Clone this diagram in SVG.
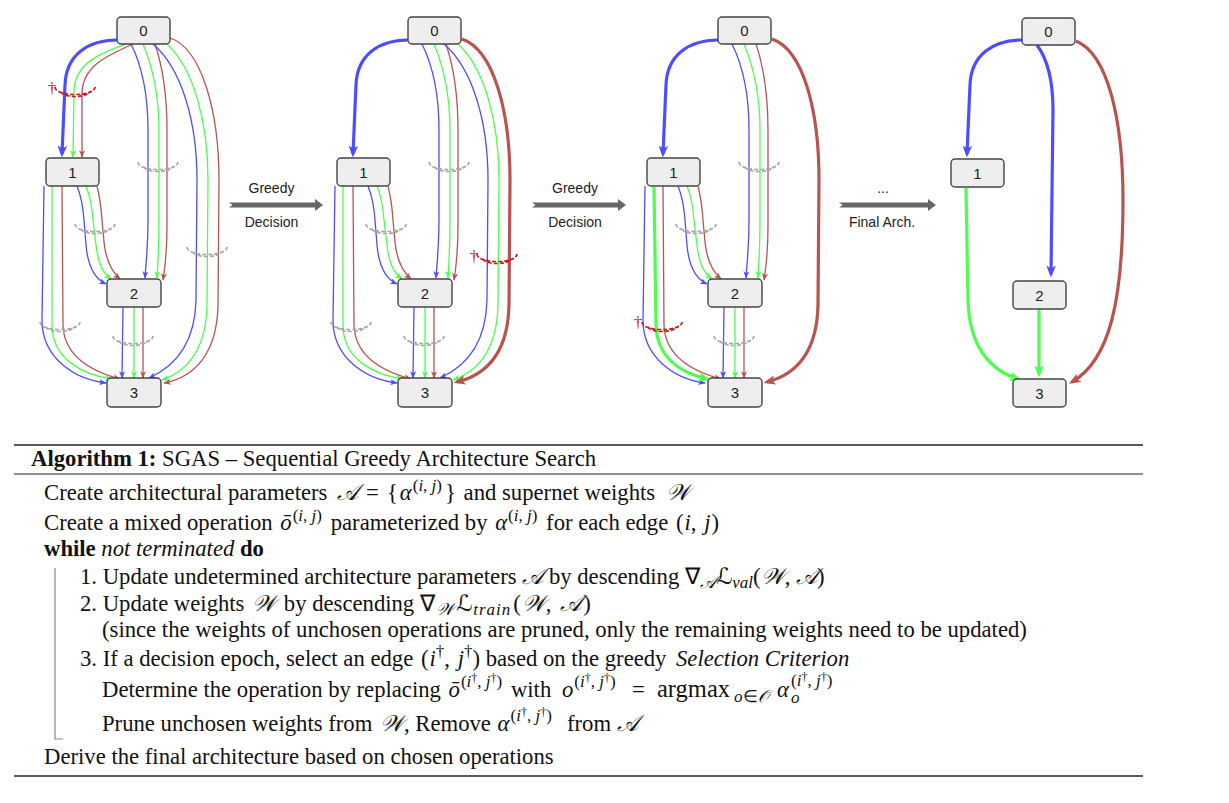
<svg xmlns="http://www.w3.org/2000/svg" xmlns:xlink="http://www.w3.org/1999/xlink" width="1229" height="803" viewBox="0 0 1229 803">
<style>
.node rect{fill:#eeeeee;stroke:#444444;stroke-width:1.4}
.node text{font-family:"Liberation Sans",Arial,sans-serif;font-size:15px;fill:#222;text-anchor:middle}
.e{fill:none;stroke-width:1.3}
.t{stroke-width:3.2}
.b{stroke:#4d4dff}
.g{stroke:#4dff4d}
.r{stroke:#b85450}
.b.n{marker-end:url(#mb)}
.g.n{marker-end:url(#mg)}
.r.n{marker-end:url(#mr)}
.b.t{marker-end:url(#Mb)}
.g.t{marker-end:url(#Mg)}
.r.t{marker-end:url(#Mr)}
.cg{stroke:#a8a8a8}
.cr{stroke:#c41a1a}
.dag{font-family:"Liberation Serif","DejaVu Serif",serif;font-size:17px;fill:#c41a1a;text-anchor:middle}
.lbl{font-family:"Liberation Sans",Arial,sans-serif;font-size:14px;fill:#222;text-anchor:middle}
.tr{fill:#666666}
.alg{font-family:"Liberation Serif","Times New Roman",serif;font-size:22.7px;fill:#111}
.i{font-style:italic}
.bd{font-weight:bold}
.sup{font-size:17px}
.sup2{font-size:12px}
.sc{font-family:"DejaVu Serif","DejaVu Sans","Noto Sans",serif}
.rule{stroke:#222;stroke-width:1.7}
.bar{stroke:#888;stroke-width:1.2;fill:none}
</style>
<defs>
<marker id="mb" viewBox="0 0 10 8" markerWidth="7.5" markerHeight="6" refX="9" refY="4" orient="auto" markerUnits="userSpaceOnUse"><path d="M0,0 L10,4 L0,8 L2.5,4 z" fill="#4d4dff"/></marker>
<marker id="mg" viewBox="0 0 10 8" markerWidth="7.5" markerHeight="6" refX="9" refY="4" orient="auto" markerUnits="userSpaceOnUse"><path d="M0,0 L10,4 L0,8 L2.5,4 z" fill="#4dff4d"/></marker>
<marker id="mr" viewBox="0 0 10 8" markerWidth="7.5" markerHeight="6" refX="9" refY="4" orient="auto" markerUnits="userSpaceOnUse"><path d="M0,0 L10,4 L0,8 L2.5,4 z" fill="#b85450"/></marker>
<marker id="Mb" viewBox="0 0 10 8" markerWidth="12" markerHeight="9.6" refX="7" refY="4" orient="auto" markerUnits="userSpaceOnUse"><path d="M0,0 L10,4 L0,8 L2.5,4 z" fill="#4d4dff"/></marker>
<marker id="Mg" viewBox="0 0 10 8" markerWidth="12" markerHeight="9.6" refX="7" refY="4" orient="auto" markerUnits="userSpaceOnUse"><path d="M0,0 L10,4 L0,8 L2.5,4 z" fill="#4dff4d"/></marker>
<marker id="Mr" viewBox="0 0 10 8" markerWidth="12" markerHeight="9.6" refX="7" refY="4" orient="auto" markerUnits="userSpaceOnUse"><path d="M0,0 L10,4 L0,8 L2.5,4 z" fill="#b85450"/></marker>
<g id="cut" fill="none" stroke-width="1.7" stroke-dasharray="4 2">
<path d="M-20,-6 C-20,4 20,4 20,-6"/>
<path d="M-14,-1 C-11,5 11,5 14,-1"/>
</g>
</defs>
<rect width="1229" height="803" fill="#ffffff"/>

<!-- Panel 1 -->
<g id="panel1">
<g id="p1-connectors">
<path class="e t b" d="M117,40 C88,40 66,55 65,85 L62,154"/>
<path class="e n g" d="M126,44 C104,52 74,62 74,92 L73,157"/>
<path class="e n r" d="M133,44 C112,54 82,64 82,94 L82,157"/>
<path class="e n b" d="M131,44 C143,68 148,95 148,130 L148,220 C148,248 146,262 145,278"/>
<path class="e n g" d="M143,44 C153,68 159,95 159,130 L159,220 C159,248 158,262 157,278"/>
<path class="e n r" d="M155,44 C163,68 167,95 167,130 L167,225 C167,255 165,268 163,280"/>
<path class="e n b" d="M153,44 C181,68 197,120 197,180 L196,300 C195,343 176,366 149,378"/>
<path class="e n g" d="M167,44 C193,68 208,120 208,180 L207,305 C206,348 188,371 162,380"/>
<path class="e n r" d="M170,38 C201,48 219,110 219,180 L218,305 C217,352 196,377 164,383"/>
<path class="e n b" d="M77,186 C81,196 83,205 84,220 L86,245 C88,268 95,279 106,284"/>
<path class="e n g" d="M86,186 C90,196 92,205 93,220 L96,245 C98,264 103,273 111,279"/>
<path class="e n r" d="M97,186 C99,194 101,205 102,220 L104,242 C106,262 112,272 120,279"/>
<path class="e n b" d="M44,186 L42,320 C42,358 74,379 106,383"/>
<path class="e n g" d="M52,186 L52,325 C52,360 84,375 112,379"/>
<path class="e n r" d="M62,186 L63,325 C64,358 94,372 120,379"/>
<path class="e n b" d="M123,307 L122,378"/>
<path class="e n g" d="M134,307 L134,378"/>
<path class="e n r" d="M143,307 L143,378"/>
<use href="#cut" class="cr" x="75" y="93"/>
<text class="dag" x="52" y="94">†</text>
<use href="#cut" class="cg" x="158" y="168"/>
<use href="#cut" class="cg" x="95" y="230"/>
<use href="#cut" class="cg" x="207" y="253"/>
<use href="#cut" class="cg" x="60" y="328"/>
<use href="#cut" class="cg" x="133" y="342"/>
</g>
<g id="p1-n0" class="node"><rect x="117" y="17" width="53" height="27" rx="4"/><text x="143.5" y="36">0</text></g>
<g id="p1-n1" class="node"><rect x="46" y="158" width="53" height="28" rx="4"/><text x="72.5" y="177.5">1</text></g>
<g id="p1-n2" class="node"><rect x="107" y="279" width="54" height="28" rx="4"/><text x="134" y="298.5">2</text></g>
<g id="p1-n3" class="node"><rect x="107" y="378" width="54" height="29" rx="4"/><text x="134" y="398">3</text></g>
</g>

<!-- Panel 2 -->
<g id="panel2" transform="translate(291,0)">
<g id="p2-connectors">
<path class="e t b" d="M117,40 C88,40 66,55 65,85 L62,154"/>
<path class="e n b" d="M131,44 C143,68 148,95 148,130 L148,220 C148,248 146,262 145,278"/>
<path class="e n g" d="M143,44 C153,68 159,95 159,130 L159,220 C159,248 158,262 157,278"/>
<path class="e n r" d="M155,44 C163,68 167,95 167,130 L167,225 C167,255 165,268 163,280"/>
<path class="e n b" d="M153,44 C181,68 197,120 197,180 L196,300 C195,343 176,366 149,378"/>
<path class="e n g" d="M167,44 C193,68 208,120 208,180 L207,305 C206,348 188,371 162,380"/>
<path class="e t r" d="M171,39 C203,50 219,112 219,180 L218,305 C217,350 198,374 166,382"/>
<path class="e n b" d="M77,186 C81,196 83,205 84,220 L86,245 C88,268 95,279 106,284"/>
<path class="e n g" d="M86,186 C90,196 92,205 93,220 L96,245 C98,264 103,273 111,279"/>
<path class="e n r" d="M97,186 C99,194 101,205 102,220 L104,242 C106,262 112,272 120,279"/>
<path class="e n b" d="M44,186 L42,320 C42,358 74,379 106,383"/>
<path class="e n g" d="M52,186 L52,325 C52,360 84,375 112,379"/>
<path class="e n r" d="M62,186 L63,325 C64,358 94,372 120,379"/>
<path class="e n b" d="M123,307 L122,378"/>
<path class="e n g" d="M134,307 L134,378"/>
<path class="e n r" d="M143,307 L143,378"/>
<use href="#cut" class="cg" x="158" y="168"/>
<use href="#cut" class="cg" x="95" y="230"/>
<use href="#cut" class="cr" x="206" y="260"/>
<text class="dag" x="183" y="262">†</text>
<use href="#cut" class="cg" x="60" y="328"/>
<use href="#cut" class="cg" x="133" y="342"/>
</g>
<g id="p2-n0" class="node"><rect x="117" y="17" width="53" height="27" rx="4"/><text x="143.5" y="36">0</text></g>
<g id="p2-n1" class="node"><rect x="46" y="158" width="53" height="28" rx="4"/><text x="72.5" y="177.5">1</text></g>
<g id="p2-n2" class="node"><rect x="107" y="279" width="54" height="28" rx="4"/><text x="134" y="298.5">2</text></g>
<g id="p2-n3" class="node"><rect x="107" y="378" width="54" height="29" rx="4"/><text x="134" y="398">3</text></g>
</g>

<!-- Panel 3 -->
<g id="panel3" transform="translate(601,0)">
<g id="p3-connectors">
<path class="e t b" d="M117,40 C88,40 66,55 65,85 L62,154"/>
<path class="e n b" d="M131,44 C143,68 148,95 148,130 L148,220 C148,248 146,262 145,278"/>
<path class="e n g" d="M143,44 C153,68 159,95 159,130 L159,220 C159,248 158,262 157,278"/>
<path class="e n r" d="M155,44 C163,68 167,95 167,130 L167,225 C167,255 165,268 163,280"/>
<path class="e t r" d="M171,39 C203,50 218,112 218,180 L217,305 C216,350 197,374 166,382"/>
<path class="e n b" d="M77,186 C81,196 83,205 84,220 L86,245 C88,268 95,279 106,284"/>
<path class="e n g" d="M86,186 C90,196 92,205 93,220 L96,245 C98,264 103,273 111,279"/>
<path class="e n r" d="M97,186 C99,194 101,205 102,220 L104,242 C106,262 112,272 120,279"/>
<path class="e n b" d="M44,186 L42,320 C42,358 74,379 104,383"/>
<path class="e t g" d="M53,187 L55,325 C56,358 80,373 106,379"/>
<path class="e n r" d="M62,186 L63,325 C64,358 94,372 120,379"/>
<path class="e n b" d="M123,307 L122,378"/>
<path class="e n g" d="M134,307 L134,378"/>
<path class="e n r" d="M143,307 L143,378"/>
<use href="#cut" class="cg" x="158" y="168"/>
<use href="#cut" class="cg" x="95" y="230"/>
<use href="#cut" class="cr" x="61" y="328"/>
<text class="dag" x="37" y="328">†</text>
<use href="#cut" class="cg" x="133" y="342"/>
</g>
<g id="p3-n0" class="node"><rect x="117" y="17" width="53" height="27" rx="4"/><text x="143.5" y="36">0</text></g>
<g id="p3-n1" class="node"><rect x="46" y="158" width="53" height="28" rx="4"/><text x="72.5" y="177.5">1</text></g>
<g id="p3-n2" class="node"><rect x="107" y="279" width="54" height="28" rx="4"/><text x="134" y="298.5">2</text></g>
<g id="p3-n3" class="node"><rect x="107" y="378" width="54" height="29" rx="4"/><text x="134" y="398">3</text></g>
</g>

<!-- Panel 4 -->
<g id="panel4" transform="translate(905,0)">
<g id="p4-connectors">
<path class="e t b" d="M117,40 C88,40 66,55 65,85 L62,154"/>
<path class="e t b" d="M132,45 C143,60 148,80 148,110 L146,274"/>
<path class="e t r" d="M171,41 C203,54 218,120 218,200 C218,300 205,360 167,382"/>
<path class="e t g" d="M61,188 L63,300 C64,345 84,370 113,379"/>
<path class="e t g" d="M134,309 L134,374"/>
</g>
<g id="p4-n0" class="node"><rect x="117" y="18" width="53" height="27" rx="4"/><text x="143.5" y="37">0</text></g>
<g id="p4-n1" class="node"><rect x="46" y="159" width="53" height="28" rx="4"/><text x="72.5" y="178.5">1</text></g>
<g id="p4-n2" class="node"><rect x="108" y="281" width="53" height="28" rx="4"/><text x="134.5" y="300.5">2</text></g>
<g id="p4-n3" class="node"><rect x="108" y="379" width="53" height="28" rx="4"/><text x="134.5" y="398.5">3</text></g>
</g>

<!-- Transitions -->
<g id="transitions">
<polygon class="tr" points="229,202.5 315,202.5 315,199 323,205 315,211 315,207.5 229,207.5 232.5,205"/>
<text class="lbl" x="271.5" y="193">Greedy</text>
<text class="lbl" x="271.5" y="227">Decision</text>
<polygon class="tr" points="532,202.5 618,202.5 618,199 626,205 618,211 618,207.5 532,207.5 535.5,205"/>
<text class="lbl" x="575" y="193">Greedy</text>
<text class="lbl" x="575" y="227">Decision</text>
<polygon class="tr" points="839,202.5 928,202.5 928,199 936,205 928,211 928,207.5 839,207.5 842.5,205"/>
<text class="lbl" x="883" y="193">...</text>
<text class="lbl" x="882" y="227">Final Arch.</text>
</g>

<!-- Algorithm -->
<g id="algorithm">
<line class="rule" x1="14" y1="445" x2="1143" y2="445"/>
<line class="rule" x1="14" y1="474" x2="1143" y2="474" style="stroke-width:1.1"/>
<line class="rule" x1="14" y1="776" x2="1143" y2="776"/>
<path class="bar" d="M55,568 L55,739 L63,739"/>
<text class="alg" x="31" y="466"><tspan class="bd">Algorithm 1:</tspan> SGAS – Sequential Greedy Architecture Search</text>
<text class="alg" x="44" y="500">Create architectural parameters <tspan class="sc i" dx="4">𝒜</tspan><tspan dx="8">=</tspan><tspan dx="8">{</tspan><tspan class="i" dx="2">α</tspan><tspan class="sup" dy="-9" dx="1">(<tspan class="i">i</tspan>, <tspan class="i">j</tspan>)</tspan><tspan dy="9" dx="3">}</tspan><tspan dx="2"> and supernet weights </tspan><tspan class="sc i" dx="5">𝒲</tspan></text>
<text class="alg" x="44" y="530">Create a mixed operation <tspan class="i" dx="2">ō</tspan><tspan class="sup" dy="-9" dx="1">(<tspan class="i">i</tspan>, <tspan class="i">j</tspan>)</tspan><tspan dy="9" dx="3"> parameterized by </tspan><tspan class="i" dx="2">α</tspan><tspan class="sup" dy="-9" dx="1">(<tspan class="i">i</tspan>, <tspan class="i">j</tspan>)</tspan><tspan dy="9" dx="3"> for each edge </tspan><tspan dx="2">(</tspan><tspan class="i" dx="1">i</tspan>, <tspan class="i" dx="2">j</tspan><tspan dx="1">)</tspan></text>
<text class="alg" x="44" y="556"><tspan class="bd">while</tspan> <tspan class="i">not terminated</tspan> <tspan class="bd">do</tspan></text>
<text class="alg" x="80" y="584">1. Update undetermined architecture parameters <tspan class="sc i">𝒜</tspan> by descending ∇<tspan class="sup sc i" dy="4">𝒜</tspan><tspan class="sc i" dy="-4">ℒ</tspan><tspan class="sup i" dy="4">val</tspan><tspan dy="-4">(</tspan><tspan class="sc i">𝒲</tspan>, <tspan class="sc i">𝒜</tspan>)</text>
<text class="alg" x="80" y="611">2. Update weights <tspan class="sc i" dx="2">𝒲</tspan><tspan dx="2"> by descending ∇</tspan><tspan class="sup sc i" dy="4" dx="1">𝒲</tspan><tspan class="sc i" dy="-4" dx="2">ℒ</tspan><tspan class="sup i" dy="4" dx="1" letter-spacing="1">train</tspan><tspan dy="-4" dx="2">(</tspan><tspan class="sc i" dx="1">𝒲</tspan>, <tspan class="sc i" dx="3">𝒜</tspan><tspan dx="2">)</tspan></text>
<text class="alg" x="102" y="637">(since the weights of unchosen operations are pruned, only the remaining weights need to be updated)</text>
<text class="alg" x="80" y="666">3. If a decision epoch, select an edge <tspan dx="2">(</tspan><tspan class="i" dx="1">i</tspan><tspan class="sup" dy="-9">†</tspan><tspan dy="9">, </tspan><tspan class="i" dx="2">j</tspan><tspan class="sup" dy="-9">†</tspan><tspan dy="9">) based on the greedy </tspan><tspan class="i" x="676">Selection Criterion</tspan></text>
<text class="alg" x="102" y="697">Determine the operation by replacing <tspan class="i" dx="2">ō</tspan><tspan class="sup" dy="-10" dx="1">(<tspan class="i">i</tspan><tspan class="sup2" dy="-5">†</tspan><tspan dy="5">, </tspan><tspan class="i">j</tspan><tspan class="sup2" dy="-5">†</tspan><tspan dy="5">)</tspan></tspan><tspan dy="10" dx="3"> with </tspan><tspan class="i" x="562">o</tspan><tspan class="sup" dy="-10" dx="1">(<tspan class="i">i</tspan><tspan class="sup2" dy="-5">†</tspan><tspan dy="5">, </tspan><tspan class="i">j</tspan><tspan class="sup2" dy="-5">†</tspan><tspan dy="5">)</tspan></tspan><tspan dy="10" x="632">=</tspan><tspan x="657" font-size="24.5">argmax</tspan><tspan class="sup" dy="5" x="734"><tspan class="i">o</tspan>∈<tspan class="sc i">𝒪</tspan></tspan><tspan class="i" dy="-5" x="777">α</tspan><tspan class="sup i" dy="6" x="791">o</tspan><tspan class="sup" x="791" dy="-17">(<tspan class="i">i</tspan><tspan class="sup2" dy="-5">†</tspan><tspan dy="5">, </tspan><tspan class="i">j</tspan><tspan class="sup2" dy="-5">†</tspan><tspan dy="5">)</tspan></tspan></text>
<text class="alg" x="102" y="731">Prune unchosen weights from <tspan class="sc i" dx="2">𝒲</tspan>, Remove <tspan class="i" dx="1">α</tspan><tspan class="sup" dy="-10" dx="1">(<tspan class="i">i</tspan><tspan class="sup2" dy="-5">†</tspan><tspan dy="5">, </tspan><tspan class="i">j</tspan><tspan class="sup2" dy="-5">†</tspan><tspan dy="5">)</tspan></tspan><tspan dy="10" x="567">from </tspan><tspan class="sc i">𝒜</tspan></text>
<text class="alg" x="44" y="764">Derive the final architecture based on chosen operations</text>
</g>
</svg>
